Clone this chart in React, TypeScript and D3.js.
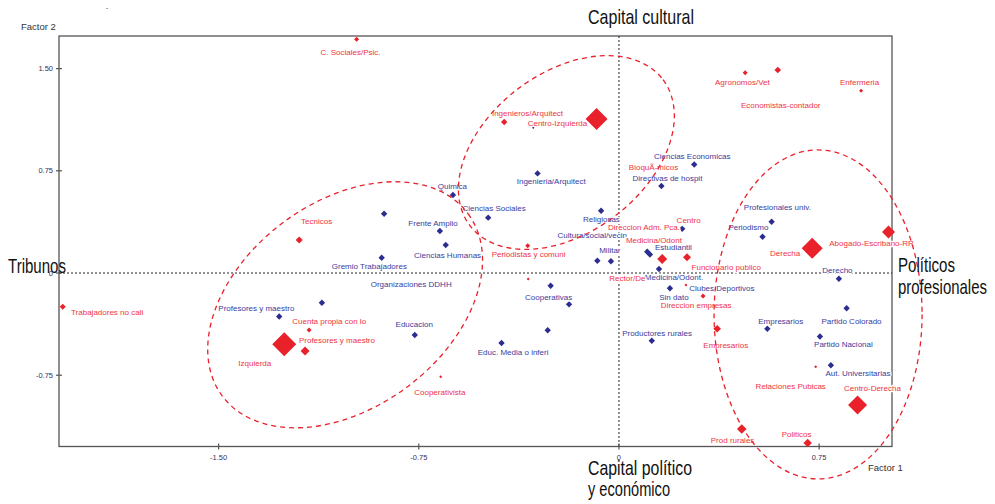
import React from 'react';
import * as d3 from 'd3';

const W = 995;
const H = 504;

// axis domains (Factor 1 horizontal, Factor 2 vertical)
const xDomain = [-2.098, 1.023];
const yDomain = [-1.273, 1.739];
const xTicks = [-1.5, -0.75, 0, 0.75];
const yTicks = [-0.75, 0, 0.75, 1.5];
const xTickLabels = ['-1.50', '-0.75', '0', '0.75'];
const yTickLabels = ['-0.75', '0', '0.75', '1.50'];

// active categories (red): name, factor1, factor2, weight
const redPoints: [string, number, number, number][] = [
  ['C. Sociales/Psic.', -0.983, 1.715, 2.5],
  ['Ingenieros/Arquitect', -0.43, 1.108, 3.2],
  ['Centro-Izquierda', -0.084, 1.13, 11],
  ['Agronomos/Vet', 0.473, 1.47, 2.5],
  ['Economistas-contador', 0.595, 1.489, 3.3],
  ['Enfermeria', 0.907, 1.337, 2],
  ['Tecnicos', -1.198, 0.242, 3.5],
  ['Trabajadores no cali', -2.084, -0.247, 3],
  ['Cuenta propia con lo', -1.161, -0.418, 2.5],
  ['Izquierda', -1.254, -0.523, 12],
  ['Profesores y maestro', -1.176, -0.572, 4.5],
  ['Periodistas y comuni', -0.342, 0.2, 2.5],
  ['Rector/De', -0.34, -0.044, 1.5],
  ['Cooperativista', -0.668, -0.761, 1.5],
  ['Centro', 0.162, 0.103, 5],
  ['Funcionario publico', 0.255, 0.115, 4],
  ['Medicina/Odont', 0.251, -0.088, 1.5],
  ['Direccion empresas', 0.315, -0.169, 2.5],
  ['Empresarios', 0.368, -0.409, 3.8],
  ['Derecha', 0.724, 0.181, 10.5],
  ['Abogado-Escribano-RR', 1.01, 0.301, 6.5],
  ['Relaciones Pubicas', 0.737, -0.687, 1.5],
  ['Centro-Derecha', 0.894, -0.968, 9.5],
  ['Prod rurales', 0.46, -1.145, 4.8],
  ['Politicos', 0.707, -1.247, 4.2],
];

// supplementary categories (blue): name, factor1, factor2
const bluePoints: [string, number, number][] = [
  ['Ciencias', -0.321, 1.066],
  ['Ingenieria/Arquitect', -0.305, 0.731],
  ['Quimica', -0.622, 0.572],
  ['Sociales', -0.88, 0.435],
  ['Ciencias Sociales', -0.49, 0.406],
  ['Frente Amplio', -0.671, 0.308],
  ['Ciencias Humanas', -0.649, 0.205],
  ['Gremio Trabajadores', -0.889, 0.112],
  ['Organizaciones DDHH', -1.113, -0.218],
  ['Profesores y maestro', -1.273, -0.319],
  ['Educacion', -0.765, -0.455],
  ['Educ. Media o inferi', -0.44, -0.514],
  ['Cooperativas', -0.256, -0.093],
  ['Cooperativas 2', -0.187, -0.23],
  ['Cooperativas 3', -0.267, -0.42],
  ['Religiosas', -0.067, 0.457],
  ['Militar', -0.081, 0.09],
  ['Cultura/social/vecin', -0.03, 0.086],
  ['Ciencias Economicas', 0.282, 0.796],
  ['Directivas de hospit', 0.159, 0.638],
  ['Direccion Adm.', 0.237, 0.324],
  ['Estudiantil', 0.106, 0.156],
  ['Estudiantil 2', 0.116, 0.136],
  ['Medicina/Odont.', 0.15, 0.029],
  ['Sin dato', 0.191, -0.112],
  ['Productores rurales', 0.123, -0.497],
  ['Profesionales univ.', 0.572, 0.376],
  ['Periodismo', 0.538, 0.266],
  ['Derecho', 0.824, -0.042],
  ['Partido Colorado', 0.853, -0.259],
  ['Empresarios', 0.556, -0.409],
  ['Partido Nacional', 0.753, -0.466],
  ['Aut. Universitarias', 0.794, -0.677],
];
const blueWeight = [1.2, 3.2, 3.2, 3.2, 3.2, 3.2, 3.2, 3.2, 3.2, 3.2, 3.2, 3.2, 3.2, 3.2, 3.2, 3.2, 3.2, 3.2, 3.2, 3.2, 3.2, 3.2, 3.2, 3.2, 3.2, 3.2, 3.2, 3.2, 3.2, 3.2, 3.2, 3.2, 3.2];

// label anchors (text, factor1, factor2)
const redLabels: [string, number, number][] = [
  ['C. Sociales/Psic.', -1.118, 1.621],
  ['Ingenieros/Arquitect', -0.476, 1.174],
  ['Centro-Izquierda', -0.342, 1.101],
  ['Agronomos/Vet', 0.36, 1.401],
  ['Enfermeria', 0.828, 1.401],
  ['Economistas-contador', 0.457, 1.233],
  ['BioquÃ-micos', 0.037, 0.778],
  ['Tecnicos', -1.191, 0.382],
  ['Trabajadores no cali', -2.053, -0.291],
  ['Cuenta propia con lo', -1.224, -0.357],
  ['Profesores y maestro', -1.199, -0.492],
  ['Izquierda', -1.426, -0.663],
  ['Periodistas y comuni', -0.477, 0.139],
  ['Rector/De', -0.036, -0.037],
  ['Cooperativista', -0.767, -0.875],
  ['Centro', 0.216, 0.389],
  ['Direccion Adm. Pca.', -0.041, 0.335],
  ['Medicina/Odont', 0.026, 0.242],
  ['Funcionario publico', 0.272, 0.046],
  ['Direccion empresas', 0.157, -0.235],
  ['Empresarios', 0.316, -0.528],
  ['Derecha', 0.566, 0.145],
  ['Abogado-Escribano-RR', 0.788, 0.218],
  ['Relaciones Pubicas', 0.512, -0.831],
  ['Centro-Derecha', 0.843, -0.844],
  ['Prod rurales', 0.344, -1.23],
  ['Politicos', 0.61, -1.186],
];

const blueLabels: [string, number, number][] = [
  ['Ciencias Economicas', 0.131, 0.858],
  ['Directivas de hospit', 0.051, 0.695],
  ['Ingenieria/Arquitect', -0.383, 0.675],
  ['Quimica', -0.679, 0.638],
  ['Ciencias Sociales', -0.586, 0.479],
  ['Frente Amplio', -0.789, 0.365],
  ['Ciencias Humanas', -0.768, 0.127],
  ['Gremio Trabajadores', -1.076, 0.051],
  ['Organizaciones DDHH', -0.93, -0.083],
  ['Profesores y maestro', -1.501, -0.259],
  ['Educacion', -0.837, -0.372],
  ['Educ. Media o inferi', -0.529, -0.582],
  ['Cooperativas', -0.352, -0.174],
  ['Productores rurales', 0.012, -0.442],
  ['Religiosas', -0.135, 0.396],
  ['Cultura/social/vecin', -0.23, 0.277],
  ['Militar', -0.074, 0.169],
  ['Estudiantil', 0.135, 0.186],
  ['Medicina/Odont.', 0.097, -0.032],
  ['Clubes Deportivos', 0.263, -0.112],
  ['Sin dato', 0.151, -0.176],
  ['Profesionales univ.', 0.468, 0.482],
  ['Periodismo', 0.41, 0.335],
  ['Derecho', 0.762, 0.022],
  ['Partido Colorado', 0.759, -0.352],
  ['Empresarios', 0.522, -0.35],
  ['Partido Nacional', 0.731, -0.526],
  ['Aut. Universitarias', 0.774, -0.736],
];

// cluster ellipses: center (factor1, factor2)
const clusterCenters: [number, number][] = [
  [-1.026, -0.233],
  [-0.197, 0.884],
  [0.746, -0.304],
];
const clusterShape = [
  { rx: 153, ry: 103, rot: -36.5 },
  { rx: 121, ry: 80, rot: -37 },
  { rx: 104, ry: 164.5, rot: 0 },
];

const RED = '#e8212b';
const RED_TEXT = '#ef3344';
const BLUE = '#2b2e8e';
const BLUE_TEXT = '#3a3c9c';
const AXIS = '#555';
const SANS = "'Liberation Sans', Arial, sans-serif";
const NARROW = "'Liberation Sans Narrow', 'Arial Narrow', 'Liberation Sans', sans-serif";

export default function App() {
  const left = 59, right = 892, top = 36, bottom = 446.5;
  const xs = d3.scaleLinear().domain(xDomain).range([left, right]);
  const ys = d3.scaleLinear().domain(yDomain).range([bottom, top]);
  const sz = d3.scaleLinear().domain([0, 12]).range([0, 12]);
  const diamond = (h: number) => d3.symbol().type(d3.symbolSquare).size(2 * h * h)() as string;
  const halo = { stroke: '#fff', strokeWidth: 2.5, paintOrder: 'stroke' as const, strokeLinejoin: 'round' as const };

  return (
    <div style={{ position: 'absolute', left: 0, top: 0 }}>
      <svg width={W} height={H} style={{ display: 'block', background: '#fff' }}>
        {/* tiny mark */}
        <text x={107} y={10} fontSize={8} fill="#666" fontFamily={SANS} textAnchor="middle">-</text>

        {/* frame */}
        <rect x={left} y={top} width={right - left} height={bottom - top} fill="none" stroke={AXIS} strokeWidth={1.3} />

        {/* zero reference lines */}
        <line x1={left} x2={right} y1={ys(0)} y2={ys(0)} stroke="#222" strokeWidth={1} strokeDasharray="2,2" />
        <line x1={xs(0)} x2={xs(0)} y1={top} y2={bottom} stroke="#222" strokeWidth={1} strokeDasharray="2,2" />

        {/* ticks */}
        {yTicks.map((t, i) => (
          <g key={'yt' + i}>
            <line x1={left - 3} x2={left + 3} y1={ys(t)} y2={ys(t)} stroke={AXIS} strokeWidth={1.2} />
            <text x={left - 6} y={ys(t)} dy="0.35em" textAnchor="end" fontSize={7.5} fill="#3a2f55" fontFamily={SANS}>{yTickLabels[i]}</text>
          </g>
        ))}
        {xTicks.map((t, i) => (
          <g key={'xt' + i}>
            <line x1={xs(t)} x2={xs(t)} y1={bottom - 3} y2={bottom + 3} stroke={AXIS} strokeWidth={1.2} />
            <text x={xs(t)} y={bottom + 10.5} dy="0.35em" textAnchor="middle" fontSize={7.5} fill="#3a2f55" fontFamily={SANS}>{xTickLabels[i]}</text>
          </g>
        ))}

        {/* axis names */}
        <text x={21} y={30} fontSize={9.5} fill="#333" fontFamily={SANS}>Factor 2</text>
        <text x={868} y={471} fontSize={9.5} fill="#333" fontFamily={SANS}>Factor 1</text>

        {/* blue markers */}
        {bluePoints.map((p, i) => (
          <path key={'bp' + i} d={diamond(sz(blueWeight[i]))} transform={`translate(${xs(p[1])},${ys(p[2])}) rotate(45)`} fill={BLUE} />
        ))}
        {/* red markers */}
        {redPoints.map((p, i) => (
          <path key={'rp' + i} d={diamond(sz(p[3]))} transform={`translate(${xs(p[1])},${ys(p[2])}) rotate(45)`} fill={RED} />
        ))}

        {/* labels */}
        {blueLabels.map((l, i) => (
          <text key={'bl' + i} x={xs(l[1])} y={ys(l[2])} dy="0.35em" fontSize={8} fill={BLUE_TEXT} fontFamily={SANS} {...halo}>{l[0]}</text>
        ))}
        {redLabels.map((l, i) => (
          <text key={'rl' + i} x={xs(l[1])} y={ys(l[2])} dy="0.35em" fontSize={8} fill={RED_TEXT} fontFamily={SANS} {...halo}>{l[0]}</text>
        ))}

        {/* cluster ellipses */}
        {clusterCenters.map((c, i) => (
          <ellipse
            key={'el' + i}
            cx={xs(c[0])}
            cy={ys(c[1])}
            rx={clusterShape[i].rx}
            ry={clusterShape[i].ry}
            transform={`rotate(${clusterShape[i].rot} ${xs(c[0])} ${ys(c[1])})`}
            fill="none"
            stroke={RED}
            strokeWidth={1.3}
            strokeDasharray="5,4"
          />
        ))}

        {/* big annotations */}
        <text x={588} y={24} fontSize={21} fontFamily={NARROW} fill="#111" textLength={106} lengthAdjust="spacingAndGlyphs">Capital cultural</text>
        <text x={8} y={273} fontSize={21} fontFamily={NARROW} fill="#111" textLength={58} lengthAdjust="spacingAndGlyphs">Tribunos</text>
        <text x={898} y={272} fontSize={21} fontFamily={NARROW} fill="#111" textLength={57} lengthAdjust="spacingAndGlyphs">Políticos</text>
        <text x={898} y={294} fontSize={21} fontFamily={NARROW} fill="#111" textLength={89} lengthAdjust="spacingAndGlyphs">profesionales</text>
        <text x={588} y={475} fontSize={21} fontFamily={NARROW} fill="#111" textLength={104} lengthAdjust="spacingAndGlyphs">Capital político</text>
        <text x={588} y={496} fontSize={21} fontFamily={NARROW} fill="#111" textLength={82} lengthAdjust="spacingAndGlyphs">y económico</text>
      </svg>
    </div>
  );
}
